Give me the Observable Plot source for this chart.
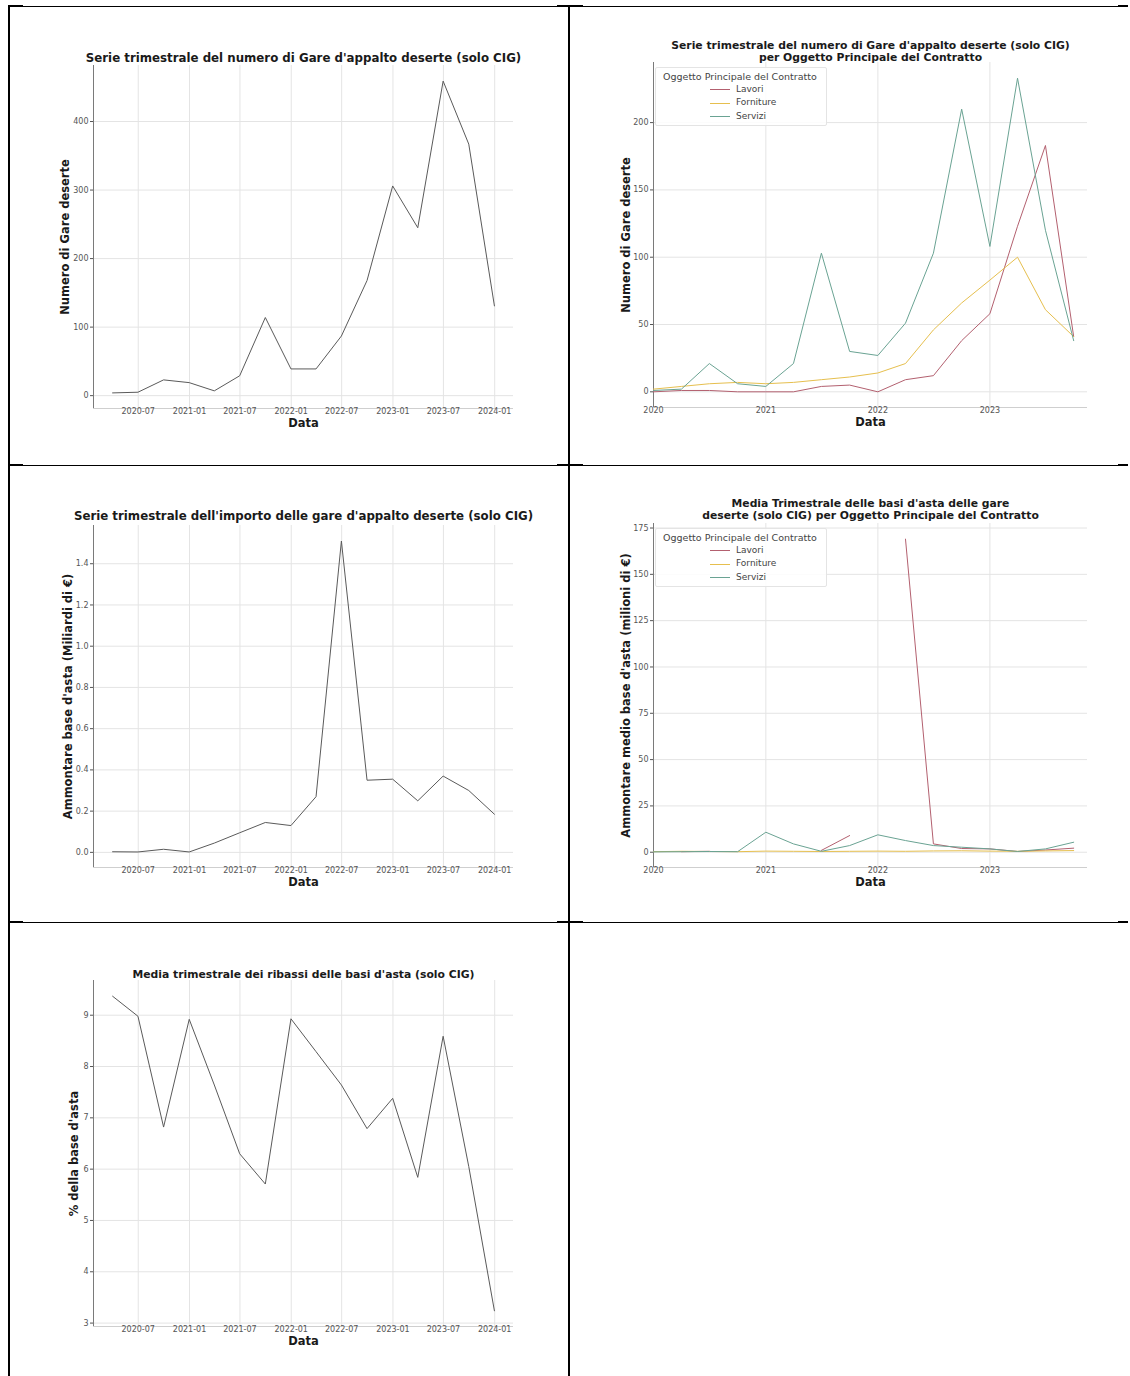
<!DOCTYPE html>
<html>
<head>
<meta charset="utf-8">
<script src="https://cdn.jsdelivr.net/npm/d3@7"></script>
<script src="https://cdn.jsdelivr.net/npm/@observablehq/plot@0.6"></script>
<style>
  body { margin: 0; background: #fff; }
  #page { position: relative; width: 1130px; height: 1376px; overflow: hidden; background: #fff; font-family: "DejaVu Sans", sans-serif; }
  .ln { position: absolute; background: #000; }
  .leg { position: absolute; border: 1px solid #e4e4e4; border-radius: 2px; background: rgba(255,255,255,0.85); font-family: "DejaVu Sans", sans-serif; color: #444; }
  .leg .t { position: absolute; white-space: nowrap; line-height: 1; }
  .leg .s { position: absolute; height: 0; border-top: 1.2px solid; }
</style>
</head>
<body>
<div id="page"></div>
<script>
// ---------------- DATA ----------------
const fineTrimestre = ["2020-03-31","2020-06-30","2020-09-30","2020-12-31","2021-03-31","2021-06-30","2021-09-30","2021-12-31","2022-03-31","2022-06-30","2022-09-30","2022-12-31","2023-03-31","2023-06-30","2023-09-30","2023-12-31"];
const inizioTrimestre = ["2020-01-01","2020-04-01","2020-07-01","2020-10-01","2021-01-01","2021-04-01","2021-07-01","2021-10-01","2022-01-01","2022-04-01","2022-07-01","2022-10-01","2023-01-01","2023-04-01","2023-07-01","2023-10-01"];

const numeroGareDeserte = [4, 5, 23, 19, 7, 29, 114, 39, 39, 87, 168, 306, 245, 459, 367, 131];
const importoMiliardi = [0.003, 0.002, 0.015, 0.002, 0.045, 0.095, 0.145, 0.13, 0.27, 1.51, 0.35, 0.355, 0.25, 0.37, 0.30, 0.185];
const ribassoMedioPct = [9.37, 8.98, 6.82, 8.92, 7.64, 6.30, 5.71, 8.93, 8.29, 7.64, 6.79, 7.38, 5.84, 8.59, 6.05, 3.24];

const categorie = ["Lavori", "Forniture", "Servizi"];
const coloriCategorie = ["#b3606f", "#e6bf4e", "#6aa393"];
const gareLavori    = [0, 1, 1, 0, 0, 0, 4, 5, 0, 9, 12, 38, 58, 123, 183, 41];
const gareForniture = [2, 4, 6, 7, 6, 7, 9, 11, 14, 21, 46, 66, 83, 100, 61, 41];
const gareServizi   = [1, 2, 21, 6, 4, 21, 103, 30, 27, 51, 103, 210, 108, 233, 120, 38];
const mediaLavori    = [NaN, 0.3, 0.5, NaN, NaN, NaN, 1.0, 9.0, NaN, 169, 4.5, 2.0, 1.8, 0.4, 1.2, 2.2];
const mediaForniture = [0.3, 0.5, 0.4, 0.3, 0.6, 0.5, 0.4, 0.5, 0.6, 0.5, 0.7, 0.8, 0.6, 0.5, 0.7, 0.9];
const mediaServizi   = [0.2, 0.3, 0.4, 0.3, 10.8, 4.5, 0.5, 3.6, 9.4, 6.3, 3.6, 2.7, 1.8, 0.4, 1.8, 5.4];

const tickMensili = ["2020-07","2021-01","2021-07","2022-01","2022-07","2023-01","2023-07","2024-01"];
const tickAnnuali = ["2020","2021","2022","2023"];
const tickGare = [0, 100, 200, 300, 400];
const tickGareCat = [0, 50, 100, 150, 200];
const tickImporto = [0, 0.2, 0.4, 0.6, 0.8, 1.0, 1.2, 1.4];
const tickMedia = [0, 25, 50, 75, 100, 125, 150, 175];
const tickRibasso = [3, 4, 5, 6, 7, 8, 9];

const titoli = [
  "Serie trimestrale del numero di Gare d'appalto deserte (solo CIG)",
  "Serie trimestrale del numero di Gare d'appalto deserte (solo CIG)\nper Oggetto Principale del Contratto",
  "Serie trimestrale dell'importo delle gare d'appalto deserte (solo CIG)",
  "Media Trimestrale delle basi d'asta delle gare\ndeserte (solo CIG) per Oggetto Principale del Contratto",
  "Media trimestrale dei ribassi delle basi d'asta (solo CIG)"
];
const etichetteY = [
  "Numero di Gare deserte",
  "Numero di Gare deserte",
  "Ammontare base d'asta (Miliardi di €)",
  "Ammontare medio base d'asta (milioni di €)",
  "% della base d'asta"
];
const etichettaX = "Data";
const titoloLegenda = "Oggetto Principale del Contratto";

// ---------------- HELPERS ----------------
const page = document.getElementById("page");
const parse = s => new Date(s);
const serie = (date, valori) => date.map((d, i) => ({data: parse(d), valore: valori[i]}));
const serieCat = (date, liste) => categorie.flatMap((c, k) => date.map((d, i) => ({data: parse(d), valore: liste[k][i], cat: c})));
const padNum = ([a, b], f = 0.05) => [a - (b - a) * f, b + (b - a) * f];
const padDate = ([a, b], f = 0.05) => { const r = b - a; return [new Date(+a - r * f), new Date(+b + r * f)]; };
const fmtMese = d3.utcFormat("%Y-%m");
const fmtAnno = d3.utcFormat("%Y");

function pannello(o) {
  const width = o.cell.w, height = o.cell.h;
  const marginLeft = o.frame.x0 - o.cell.x;
  const marginRight = o.cell.x + o.cell.w - o.frame.x1;
  const marginTop = o.frame.y0 - o.cell.y;
  const marginBottom = o.cell.y + o.cell.h - o.frame.y1;
  const yExt = d3.extent(o.dati, d => d.valore);
  const yDomain = padNum(yExt);
  const plotOpts = {
    width, height, marginLeft, marginRight, marginTop, marginBottom,
    style: {fontFamily: '"DejaVu Sans", sans-serif', background: "transparent", overflow: "visible", color: "#555"},
    x: {type: "utc", domain: o.xDomain},
    y: {type: "linear", domain: yDomain},
    marks: [
      Plot.gridX(o.xTicks, {stroke: "#e4e4e4", strokeOpacity: 1}),
      Plot.gridY(o.yTicks, {stroke: "#e4e4e4", strokeOpacity: 1}),
      Plot.ruleY([yDomain[0]], {stroke: "#cfcfcf"}),
      Plot.ruleX([o.xDomain[0]], {stroke: "#7a7a7a"}),
      Plot.axisX(o.xTicks, {tickFormat: o.xFormat, tickSize: 0, tickPadding: 0, fontSize: 8, label: null}),
      Plot.axisY(o.yTicks, {tickFormat: o.yFormat, tickSize: 3, tickPadding: 2, fontSize: 8, label: null}),
      o.cat
        ? Plot.line(o.dati, {x: "data", y: "valore", z: "cat", stroke: "cat", strokeWidth: 1})
        : Plot.line(o.dati, {x: "data", y: "valore", stroke: "#5a5a5a", strokeWidth: 1}),
      Plot.text([o.titolo], {text: d => d, frameAnchor: "top", dy: o.titoloDy, lineAnchor: "middle", fontWeight: "bold", fontSize: o.titoloSize, fill: "#1a1a1a", lineHeight: 1.11}),
      Plot.text([o.yLabel], {text: d => d, frameAnchor: "left", textAnchor: "middle", dx: o.yLabelDx, rotate: -90, fontWeight: "bold", fontSize: 11.5, fill: "#1a1a1a"}),
      Plot.text([etichettaX], {text: d => d, frameAnchor: "bottom", textAnchor: "middle", dy: o.xLabelDy, fontWeight: "bold", fontSize: 11.5, fill: "#1a1a1a"})
    ]
  };
  if (o.cat) plotOpts.color = {domain: categorie, range: coloriCategorie};
  const chart = Plot.plot(plotOpts);
  chart.style.position = "absolute";
  chart.style.left = o.cell.x + "px";
  chart.style.top = o.cell.y + "px";
  page.appendChild(chart);
}

function legenda(left, top) {
  const box = document.createElement("div");
  box.className = "leg";
  box.style.left = left + "px"; box.style.top = top + "px";
  box.style.width = "170px"; box.style.height = "57px";
  const t = document.createElement("div");
  t.className = "t"; t.textContent = titoloLegenda;
  t.style.left = "7px"; t.style.top = "4px"; t.style.fontSize = "9.5px";
  box.appendChild(t);
  categorie.forEach((c, i) => {
    const s = document.createElement("div");
    s.className = "s"; s.style.borderTopColor = coloriCategorie[i];
    s.style.left = "54px"; s.style.width = "20px"; s.style.top = (21 + i * 13.5) + "px";
    box.appendChild(s);
    const l = document.createElement("div");
    l.className = "t"; l.textContent = c; l.style.fontSize = "9px";
    l.style.left = "80px"; l.style.top = (16.5 + i * 13.5) + "px";
    box.appendChild(l);
  });
  page.appendChild(box);
}

function linea(x, y, w, h) {
  const d = document.createElement("div");
  d.className = "ln";
  d.style.left = x + "px"; d.style.top = y + "px"; d.style.width = w + "px"; d.style.height = h + "px";
  page.appendChild(d);
}

// ---------------- TABLE GRID ----------------
[6, 465, 922].forEach(y => {
  linea(8, y, 1120, 1);
  linea(8, y - 1, 15, 2);
  linea(557, y - 1, 26, 2);
  linea(1118, y - 1, 10, 2);
});
linea(8, 6, 2, 1370);
linea(568, 6, 2, 1370);

// ---------------- PANELS ----------------
const xMensili = tickMensili.map(s => parse(s + "-01"));
const xAnnuali = tickAnnuali.map(s => parse(s + "-01-01"));
const domMensile = padDate(d3.extent(fineTrimestre, parse));
const domAnnuale = [parse(inizioTrimestre[0]), new Date(+parse(inizioTrimestre[inizioTrimestre.length - 1]) + 45 * 864e5)];

pannello({
  cell: {x: 8, y: 7, w: 561, h: 458}, frame: {x0: 93, x1: 513, y0: 65, y1: 408},
  dati: serie(fineTrimestre, numeroGareDeserte), xDomain: domMensile,
  xTicks: xMensili, xFormat: fmtMese, yTicks: tickGare, yFormat: d3.format("d"),
  titolo: titoli[0], titoloSize: 11.8, titoloDy: -8, yLabel: etichetteY[0], yLabelDx: -28, xLabelDy: 18
});

pannello({
  cell: {x: 569, y: 7, w: 559, h: 458}, frame: {x0: 653, x1: 1087, y0: 62, y1: 407},
  dati: serieCat(inizioTrimestre, [gareLavori, gareForniture, gareServizi]), cat: true, xDomain: domAnnuale,
  xTicks: xAnnuali, xFormat: fmtAnno, yTicks: tickGareCat, yFormat: d3.format("d"),
  titolo: titoli[1], titoloSize: 10.8, titoloDy: -11, yLabel: etichetteY[1], yLabelDx: -27, xLabelDy: 18
});

pannello({
  cell: {x: 8, y: 465, w: 561, h: 456}, frame: {x0: 93, x1: 513, y0: 525, y1: 867},
  dati: serie(fineTrimestre, importoMiliardi), xDomain: domMensile,
  xTicks: xMensili, xFormat: fmtMese, yTicks: tickImporto, yFormat: d3.format(".1f"),
  titolo: titoli[2], titoloSize: 11.8, titoloDy: -10, yLabel: etichetteY[2], yLabelDx: -25, xLabelDy: 18
});

pannello({
  cell: {x: 569, y: 465, w: 559, h: 456}, frame: {x0: 653, x1: 1087, y0: 523, y1: 867},
  dati: serieCat(inizioTrimestre, [mediaLavori, mediaForniture, mediaServizi]), cat: true, xDomain: domAnnuale,
  xTicks: xAnnuali, xFormat: fmtAnno, yTicks: tickMedia, yFormat: d3.format("d"),
  titolo: titoli[3], titoloSize: 10.8, titoloDy: -14, yLabel: etichetteY[3], yLabelDx: -27, xLabelDy: 18
});

pannello({
  cell: {x: 8, y: 921, w: 561, h: 455}, frame: {x0: 93, x1: 513, y0: 980, y1: 1326},
  dati: serie(fineTrimestre, ribassoMedioPct), xDomain: domMensile,
  xTicks: xMensili, xFormat: fmtMese, yTicks: tickRibasso, yFormat: d3.format("d"),
  titolo: titoli[4], titoloSize: 10.8, titoloDy: -6, yLabel: etichetteY[4], yLabelDx: -19, xLabelDy: 18
});

legenda(655, 67);
legenda(655, 528);
</script>
</body>
</html>
